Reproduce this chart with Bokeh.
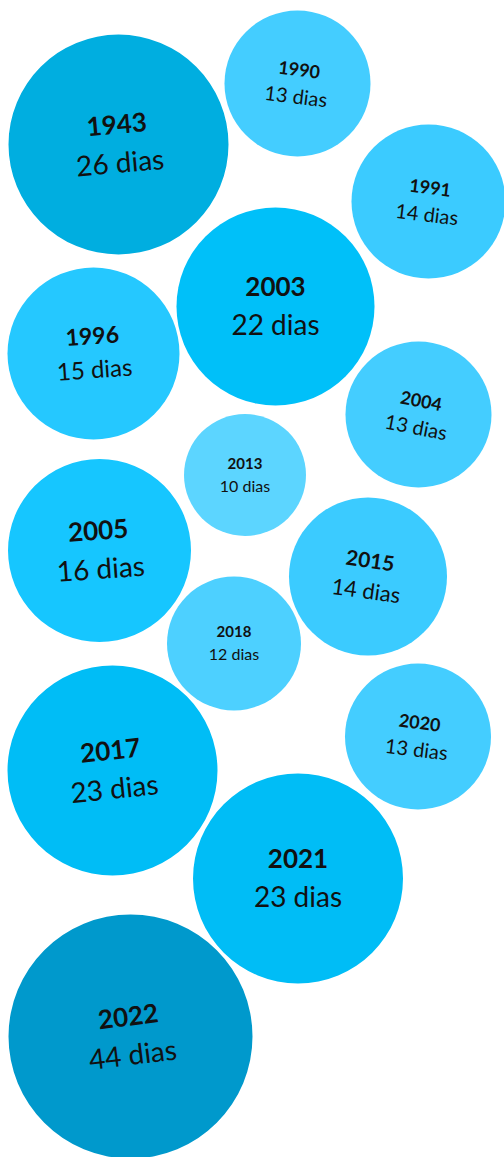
import math
from bokeh.plotting import figure
from bokeh.models import Range1d, ColumnDataSource
from bokeh.core.properties import value
from bokeh.embed import file_html
from bokeh.resources import INLINE

# ---- data ----
years = ["1943", "1990", "1991", "2003", "1996", "2004", "2013",
         "2005", "2015", "2018", "2017", "2020", "2021", "2022"]
days = [26, 13, 14, 22, 15, 13, 10, 16, 14, 12, 23, 13, 23, 44]

# ---- packed-bubble layout (screen pixels of the packed layout) ----
layout_x = [118, 297, 428, 275, 93, 418, 244.5, 99, 367.5, 233.5, 112, 417.5, 297.5, 130]
layout_y = [144, 83, 201, 306, 353, 414, 474.5, 550, 576, 643, 770, 736, 878, 1036]
layout_r = [110, 73, 77, 99, 86, 73, 61, 91.5, 79, 67, 105, 73, 105, 122]
tilt_deg = [5, -7, -7, 0, 4, -11, 0, 4, -8, 0, 6, -7, 0, 7]
font_px = [24, 17, 17, 24, 21, 17, 14, 24, 19, 14, 24, 17, 24, 24]
fill = ["#00AEE0", "#44CDFF", "#3BCBFF", "#00C0F9", "#25C8FF", "#44CDFF", "#5CD5FF",
        "#16C6FF", "#3BCBFF", "#4DD0FF", "#00BDF6", "#44CDFF", "#00BDF6", "#0099CC"]

W, H = 504, 1157
p = figure(width=W, height=H, output_backend="svg", toolbar_location=None,
           x_range=Range1d(0, W), y_range=Range1d(-H, 0),
           x_axis_location=None, y_axis_location=None, min_border=0)
p.grid.visible = False
p.outline_line_color = None
p.background_fill_color = "white"
p.border_fill_color = "white"

cy = [-v for v in layout_y]
src = ColumnDataSource(dict(x=layout_x, y=cy, r=layout_r, c=fill))
p.circle(x="x", y="y", radius="r", fill_color="c", line_color=None, source=src)

yx, yy, dx, dy, ang, ylab, dlab, yfs, dfs = [], [], [], [], [], [], [], [], []
for i in range(len(years)):
    t = math.radians(tilt_deg[i])
    fs = font_px[i]
    up = 0.85 * fs
    dn = 0.72 * fs
    yx.append(layout_x[i] - up * math.sin(t))
    yy.append(cy[i] + up * math.cos(t))
    dx.append(layout_x[i] + dn * math.sin(t))
    dy.append(cy[i] - dn * math.cos(t))
    ang.append(t)
    ylab.append(years[i])
    dlab.append(f"{days[i]} dias")
    yfs.append(f"{round(fs * 1.08)}px")
    dfs.append(f"{round(fs * 1.15)}px")

tsrc = ColumnDataSource(dict(yx=yx, yy=yy, dx=dx, dy=dy, a=ang,
                             yl=ylab, dl=dlab, yfs=yfs, dfs=dfs))
p.text(x="yx", y="yy", text="yl", angle="a", source=tsrc,
       text_align="center", text_baseline="middle",
       text_font=value("Lato"), text_font_style="bold",
       text_font_size="yfs", text_color="#111111")
p.text(x="dx", y="dy", text="dl", angle="a", source=tsrc,
       text_align="center", text_baseline="middle",
       text_font=value("Lato"), text_font_style="normal",
       text_font_size="dfs", text_color="#111111")

open("out.html", "w").write(file_html(p, INLINE))
